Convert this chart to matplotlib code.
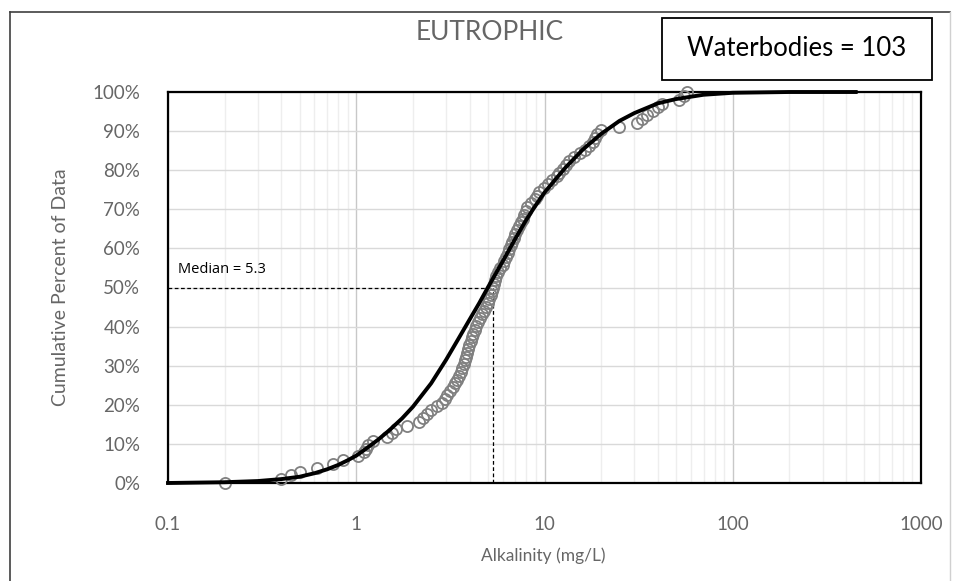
import matplotlib
matplotlib.use("Agg")
import matplotlib.pyplot as plt
import numpy as np
from matplotlib.ticker import FixedLocator, FuncFormatter, NullFormatter
from matplotlib.patches import Rectangle
from matplotlib.lines import Line2D

# alkalinity values (mg/L) of the 103 waterbodies, sorted
alk = [0.2, 0.4, 0.45, 0.5, 0.62, 0.75, 0.85, 1.02, 1.1, 1.12,
       1.15, 1.23, 1.45, 1.55, 1.63, 1.85, 2.15, 2.27, 2.37, 2.5,
       2.7, 2.85, 2.97, 3.05, 3.15, 3.27, 3.35, 3.42, 3.5, 3.58,
       3.65, 3.72, 3.77, 3.82, 3.87, 3.92, 3.97, 4.05, 4.12, 4.18,
       4.25, 4.33, 4.45, 4.57, 4.68, 4.8, 4.9, 5.0, 5.1, 5.17,
       5.25, 5.3, 5.37, 5.43, 5.5, 5.65, 5.82, 6.0, 6.12, 6.25,
       6.37, 6.5, 6.62, 6.75, 6.87, 7.0, 7.15, 7.35, 7.5, 7.65,
       7.8, 7.95, 8.1, 8.5, 8.9, 9.1, 9.4, 9.9, 10.4, 11.0,
       11.6, 12.0, 12.5, 13.0, 13.5, 14.3, 15.5, 16.5, 17.3, 18.0,
       18.5, 19.0, 20, 25, 31, 33, 35, 37.5, 40, 42,
       52, 55, 57]

# fitted curve
curve_x = [0.1, 0.2, 0.3, 0.4, 0.5, 0.6, 0.7, 0.8, 0.9, 1.0, 1.1, 1.3, 1.5, 1.75,
           2.0, 2.5, 3.0, 3.5, 4.0, 4.5, 5.0, 6.0, 7.0, 8.0, 9.0, 10, 11.5, 13,
           16, 20, 25, 30, 40, 50, 70, 100, 200, 450]
curve_pct = [0.0, 0.2, 0.5, 1.0, 1.6, 2.5, 3.5, 4.6, 5.8, 7.0, 8.4, 11.0, 13.5, 16.5,
             19.5, 25.5, 31.5, 37.0, 41.8, 46.0, 50.0, 56.7, 62.5, 67.3, 71.1, 74.3, 77.8, 80.8,
             85.3, 89.3, 92.6, 94.6, 97.1, 98.2, 99.3, 99.8, 100.0, 100.0]

median = 5.3
n_water = 103

gray = "#666666"
font = "Lato"

fig = plt.figure(figsize=(9.56, 5.81), dpi=100)
ax = fig.add_axes([168/956, 98/581, 753/956, 391/581])

# grid
ax.set_xscale("log")
ax.set_xlim(0.1, 1000)
ax.set_ylim(0, 1)
ax.yaxis.set_major_locator(FixedLocator(np.arange(0, 1.01, 0.1)))
ax.yaxis.set_major_formatter(FuncFormatter(lambda v, p: "%d%%" % round(v*100)))
ax.xaxis.set_major_locator(FixedLocator([0.1, 1, 10, 100, 1000]))
ax.xaxis.set_major_formatter(FuncFormatter(lambda v, p: ("%g" % v)))
minors = [m*10.0**e for e in range(-1, 3) for m in range(2, 10)]
ax.xaxis.set_minor_locator(FixedLocator(minors))
ax.xaxis.set_minor_formatter(NullFormatter())
ax.grid(which="major", axis="y", color="#d9d9d9", lw=1)
ax.grid(which="major", axis="x", color="#c8c8c8", lw=1)
ax.grid(which="minor", axis="x", color="#eeeeee", lw=1)
ax.set_axisbelow(True)
ax.tick_params(which="both", length=0, labelcolor=gray, labelsize=13.5)
ax.tick_params(axis="y", pad=20)
ax.tick_params(axis="x", pad=24)
for lab in ax.get_xticklabels() + ax.get_yticklabels():
    lab.set_fontfamily(font)
for s in ax.spines.values():
    s.set_color("black")
    s.set_linewidth(1.6)

# median lines
ax.plot([0.1, median], [0.5, 0.5], color="black", lw=0.9, ls=(0, (3, 2)))
ax.plot([median, median], [0, 0.5], color="black", lw=0.9, ls=(0, (3, 2)))
ax.text(0.113, 0.545, "Median = %.1f" % median, fontsize=10.5, color="black",
        family="Open Sans", va="center")

# data points
pct = np.arange(len(alk)) / (len(alk) - 1)
ax.plot(alk, pct, ls="none", marker="o", ms=8, mfc="none", mec="#808080",
        mew=1.3, clip_on=False, zorder=3)
# fitted curve
ax.plot(curve_x, np.array(curve_pct)/100, color="black", lw=2.8, zorder=4,
        clip_on=False)

ax.set_xlabel("Alkalinity (mg/L)", color=gray, fontsize=12.5, family=font)
ax.set_ylabel("Cumulative Percent of Data", color=gray, fontsize=14, family=font)
ax.xaxis.set_label_coords(0.498, -0.164)
ax.yaxis.set_label_coords(-0.131, 0.5)

fig.text(490/956, 1-33/581, "EUTROPHIC", color=gray, fontsize=19, family=font,
         ha="center", va="center")
fig.add_artist(Rectangle((662/956, 1-80/581), 270/956, 62/581, fc="white",
                         ec="black", lw=1.3, transform=fig.transFigure))
fig.text(797/956, 1-49/581, "Waterbodies = %d" % n_water, color="black", fontsize=18.5,
         family=font, ha="center", va="center")

# outer frame
fig.add_artist(Line2D([10/956, 10/956], [0, 1-12/581], color="#404040", lw=1.2))
fig.add_artist(Line2D([10/956, 950/956], [1-12/581, 1-12/581], color="#404040", lw=1.2))
fig.add_artist(Line2D([950/956, 950/956], [0, 1-12/581], color="#d0d0d0", lw=1))

fig.savefig("out.png", dpi=100)
